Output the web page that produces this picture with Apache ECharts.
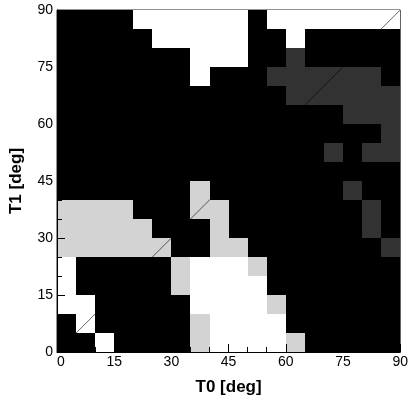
<!DOCTYPE html>
<html>
<head>
<meta charset="utf-8">
<script src="https://cdn.jsdelivr.net/npm/echarts@6/dist/echarts.min.js"></script>
<style>
  html, body { margin: 0; padding: 0; background: #fff; }
  #chart { width: 411px; height: 401px; }
</style>
</head>
<body>
<div id="chart"></div>
<script>
// Bin lower edges (degrees) along each axis; every cell is 5 x 5 deg
const t0Bins = [0, 5, 10, 15, 20, 25, 30, 35, 40, 45, 50, 55, 60, 65, 70, 75, 80, 85];
const t1Bins = [0, 5, 10, 15, 20, 25, 30, 35, 40, 45, 50, 55, 60, 65, 70, 75, 80, 85];
const binWidth = 5;

// Region class of each cell, one string per T1 row from 85 deg down to 0 deg.
// B = black, W = white, L = light grey, D = dark grey
const cellRows = [
  "BBBBWWWWWWBWWWWWWW", // 85
  "BBBBBWWWWWBBWBBBBB", // 80
  "BBBBBBBWWWBBDBBBBB", // 75
  "BBBBBBBWBBBDDDDDDB", // 70
  "BBBBBBBBBBBBDDDDDD", // 65
  "BBBBBBBBBBBBBBBDDD", // 60
  "BBBBBBBBBBBBBBBBBD", // 55
  "BBBBBBBBBBBBBBDBDD", // 50
  "BBBBBBBBBBBBBBBBBB", // 45
  "BBBBBBBLBBBBBBBDBB", // 40
  "LLLLBBBLLBBBBBBBDB", // 35
  "LLLLLBBBLBBBBBBBDB", // 30
  "LLLLLLBBLLBBBBBBBD", // 25
  "WBBBBBLWWWLBBBBBBB", // 20
  "WBBBBBLWWWWBBBBBBB", // 15
  "WWBBBBBWWWWLBBBBBB", // 10
  "BWBBBBBLWWWWBBBBBB", // 5
  "BBWBBBBLWWWWLBBBBB"  // 0
];

const classKeys = ["B", "W", "L", "D"];
const classColors = ["#000000", "#ffffff", "#d3d3d3", "#323232"];

// Reference line T1 = T0
const diagonal = [[0, 0], [90, 90]];

const axisTicks = [0, 15, 30, 45, 60, 75, 90];

// Build [t0, t1, classIndex] triples for the custom series
const cells = [];
cellRows.forEach(function (row, r) {
  const t1 = t1Bins[t1Bins.length - 1 - r];
  for (let c = 0; c < row.length; c++) {
    cells.push([t0Bins[c], t1, classKeys.indexOf(row[c])]);
  }
});

const font = "'Liberation Sans', Arial, Helvetica, sans-serif";

function renderCell(params, api) {
  const x0 = api.value(0), y0 = api.value(1);
  const a = api.coord([x0, y0]);
  const b = api.coord([x0 + binWidth, y0 + binWidth]);
  const left = Math.round(a[0]), right = Math.round(b[0]);
  const top = Math.round(b[1]), bottom = Math.round(a[1]);
  return {
    type: 'rect',
    shape: { x: left, y: top, width: right - left, height: bottom - top },
    style: { fill: classColors[api.value(2)] }
  };
}

function axisCommon(name, gap) {
  return {
    type: 'value',
    min: axisTicks[0],
    max: axisTicks[axisTicks.length - 1],
    interval: axisTicks[1] - axisTicks[0],
    z: 10,
    name: name,
    nameLocation: 'middle',
    nameGap: gap,
    nameTextStyle: { fontFamily: font, fontSize: 17, fontWeight: 'bold', color: '#000' },
    axisLine: { show: true, onZero: false, lineStyle: { color: '#000', width: 1 } },
    axisTick: { show: true, inside: true, length: 8, lineStyle: { color: '#000', width: 1 } },
    minorTick: { show: true, splitNumber: 3, length: 5, lineStyle: { color: '#000', width: 1 } },
    splitLine: { show: false },
    minorSplitLine: { show: false },
    axisLabel: { fontFamily: font, fontSize: 14, color: '#000' }
  };
}

const xAxis = axisCommon('T0 [deg]', 27);
xAxis.axisLabel.margin = 3;
xAxis.axisLabel.alignMinLabel = 'left';
const yAxis = axisCommon('T1 [deg]', 32);
yAxis.axisLabel.margin = 4;

const chart = echarts.init(document.getElementById('chart'), null, { renderer: 'canvas' });
chart.setOption({
  animation: false,
  backgroundColor: '#fff',
  grid: {
    left: 52, right: 7, top: 10, bottom: 41,
    show: true, borderColor: '#222', borderWidth: 1, backgroundColor: 'transparent'
  },
  xAxis: xAxis,
  yAxis: yAxis,
  series: [
    {
      type: 'custom',
      renderItem: renderCell,
      data: cells,
      encode: { x: 0, y: 1 },
      silent: true,
      z: 2
    },
    {
      type: 'line',
      data: diagonal,
      showSymbol: false,
      symbol: 'none',
      silent: true,
      color: '#000',
      lineStyle: { color: '#000', width: 0.6, opacity: 1 },
      emphasis: { disabled: true },
      z: 5
    }
  ]
});
</script>
</body>
</html>
